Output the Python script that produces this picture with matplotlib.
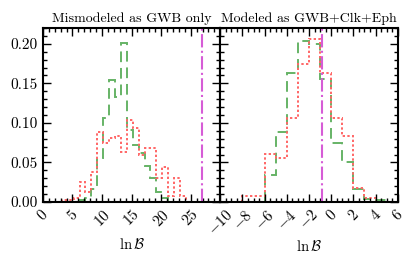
import numpy as np
import matplotlib
matplotlib.use('Agg')
import matplotlib.pyplot as plt
from matplotlib.ticker import MultipleLocator

plt.rcParams['font.family'] = 'serif'
plt.rcParams['font.serif'] = ['cmr10']
plt.rcParams['mathtext.fontset'] = 'cm'
plt.rcParams['axes.formatter.use_mathtext'] = True
plt.rcParams['font.size'] = 10

# left panel: mismodeled as GWB only
left_red_edges = [3.2, 4.2, 5.2, 6.2, 7.2, 8.2, 9.2, 10.2, 11.2, 12.2, 13.2, 14.2,
                  15.2, 16.2, 17.2, 18.2, 19.2, 20.2, 21.2, 22.2, 23.2, 24.2]
left_red = [0.002, 0.002, 0.005, 0.025, 0.013, 0.038, 0.089, 0.074, 0.081, 0.083, 0.063,
            0.104, 0.093, 0.060, 0.068, 0.068, 0.030, 0.044, 0.008, 0.030, 0.008]
left_green_edges = [6.2, 7.2, 8.2, 9.2, 10.2, 11.2, 12.2, 13.2, 14.2, 15.2, 16.2,
                    17.2, 18.2, 19.2, 20.2, 21.2]
left_green = [0.002, 0.005, 0.016, 0.056, 0.106, 0.154, 0.133, 0.201, 0.091, 0.072,
              0.062, 0.046, 0.030, 0.013, 0.005]
left_true = 26.9

# right panel: modeled as GWB+Clk+Eph
right_red_edges = [-8, -7, -6, -5, -4, -3, -2, -1, 0, 1, 2, 3, 4]
right_red = [0.008, 0.008, 0.061, 0.056, 0.106, 0.175, 0.206, 0.163, 0.106, 0.084,
             0.018, 0.005]
right_green_edges = [-6, -5, -4, -3, -2, -1, 0, 1, 2, 3, 4, 5]
right_green = [0.034, 0.089, 0.163, 0.204, 0.200, 0.155, 0.074, 0.051, 0.016, 0.004,
               0.002]
right_true = -0.83

titles = ['Mismodeled as GWB only', 'Modeled as GWB+Clk+Eph']

green = '#66b366'
red = '#ff6666'
magenta = '#d65cd6'

fig = plt.figure(figsize=(4.16, 2.69), dpi=100)
ax1 = fig.add_axes([0.103, 0.249, 0.4265, 0.647])
ax2 = fig.add_axes([0.5295, 0.249, 0.4265, 0.647], sharey=ax1)

panels = [
    (ax1, left_green_edges, left_green, left_red_edges, left_red, left_true),
    (ax2, right_green_edges, right_green, right_red_edges, right_red, right_true),
]

for i, (ax, ge, gv, re, rv, truth) in enumerate(panels):
    ax.stairs(gv, ge, color=green, ls=(0, (5.5, 3)), lw=1.4)
    ax.stairs(rv, re, color=red, ls=(0, (1.2, 1.2)), lw=1.4)
    ax.axvline(truth, color=magenta, ls='-.', lw=1.5)
    ax.set_title(titles[i], fontsize=10, pad=4)
    ax.set_xlabel(r'$\ln\mathcal{B}$', fontsize=10.5)
    ax.tick_params(which='both', direction='in', top=True, right=True, width=1,
                   labelsize=11)
    ax.tick_params(which='major', length=6)
    ax.tick_params(which='minor', length=3)
    ax.tick_params(axis='x', labelrotation=45)
    for s in ax.spines.values():
        s.set_linewidth(1.5)

# put the x labels where the reference has them
ax1.xaxis.set_label_coords(0.5, -0.20)
ax2.xaxis.set_label_coords(0.5, -0.21)

ax1.set_xlim(0, 30)
ax1.set_xticks([0, 5, 10, 15, 20, 25])
ax1.xaxis.set_minor_locator(MultipleLocator(1))
ax1.set_ylim(0, 0.22)
ax1.yaxis.set_major_locator(MultipleLocator(0.05))
ax1.yaxis.set_minor_locator(MultipleLocator(0.01))
ax1.yaxis.set_major_formatter(matplotlib.ticker.FormatStrFormatter('%.2f'))

ax2.set_xlim(-10, 6)
ax2.xaxis.set_major_locator(MultipleLocator(2))
ax2.xaxis.set_minor_locator(MultipleLocator(0.5))
ax2.tick_params(axis='y', labelleft=False)

fig.savefig('out.png', dpi=100)
